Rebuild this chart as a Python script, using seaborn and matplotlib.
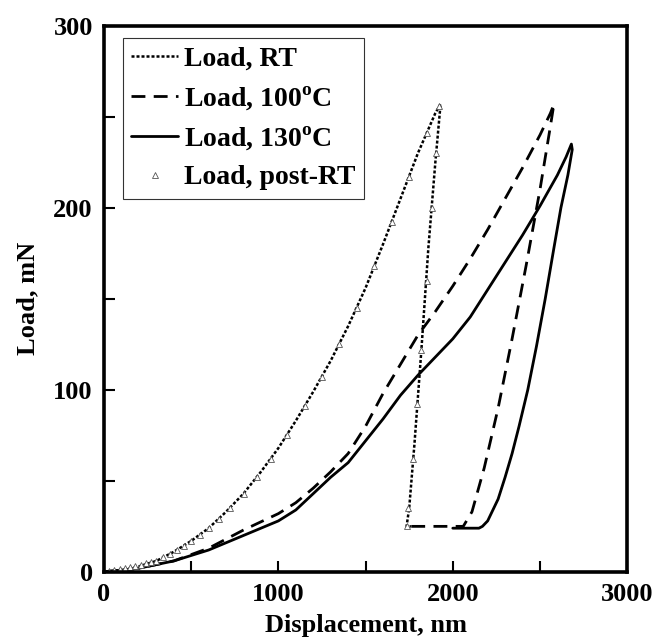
import numpy as np
import pandas as pd
import seaborn as sns
import matplotlib.pyplot as plt
from matplotlib.ticker import MultipleLocator

# Load-displacement data (nm, mN)
rt_x = [0, 100, 200, 300, 400, 500, 600, 700, 800, 900, 1000, 1100, 1200, 1300, 1400,
        1500, 1600, 1700, 1800, 1900, 1930, 1900, 1860, 1820, 1780, 1750, 1735, 1760]
rt_y = [0, 1, 3, 6, 11, 17, 24, 33, 43, 55, 68, 83, 99, 116, 135,
        156, 180, 205, 230, 252, 257, 225, 178, 122, 70, 35, 25, 25]

t100_x = [0, 200, 400, 600, 800, 1000, 1100, 1200, 1300, 1400, 1500, 1600, 1700, 1800, 1900,
          2000, 2100, 2200, 2300, 2400, 2500, 2560, 2580, 2560, 2500, 2420, 2340, 2260, 2180,
          2110, 2060, 2050, 1900, 1730]
t100_y = [0, 2, 6, 13, 23, 32, 38, 46, 55, 65, 80, 98, 114, 130, 143,
          157, 172, 188, 205, 222, 240, 252, 257, 245, 210, 168, 128, 90, 57,
          33, 25, 25, 25, 25]

t130_x = [0, 200, 400, 600, 800, 1000, 1100, 1200, 1300, 1400, 1500, 1600, 1700, 1800, 1900,
          2000, 2100, 2200, 2300, 2400, 2500, 2600, 2650, 2680, 2685, 2660, 2620, 2580, 2530,
          2480, 2430, 2380, 2340, 2300, 2260, 2200, 2170, 2150, 2000]
t130_y = [0, 2, 6, 12, 20, 28, 34, 43, 52, 60, 72, 84, 97, 108, 118,
          128, 140, 155, 170, 185, 201, 218, 228, 235, 232, 218, 200, 178, 150,
          124, 100, 80, 65, 52, 40, 28, 25, 24, 24]

post_x = [0, 30, 60, 90, 120, 150, 180, 210, 240, 270, 300, 340, 380, 420, 460, 500,
          550, 600, 660, 720, 800, 880, 960, 1050, 1150, 1250, 1350, 1450, 1550, 1650,
          1750, 1850, 1920, 1905, 1880, 1850, 1820, 1795, 1770, 1745, 1735]
post_y = [0, 0.5, 1, 1.5, 2, 2.5, 3, 4, 5, 5.5, 6, 8, 10, 12, 14, 17,
          20, 24, 29, 35, 43, 52, 62, 75, 91, 107, 125, 145, 168, 192,
          217, 241, 256, 230, 200, 160, 122, 92, 62, 35, 25]

labels = ["Load, RT", r"Load, 100$^{\rm o}$C", r"Load, 130$^{\rm o}$C", "Load, post-RT"]

sns.set_style("ticks")
plt.rcParams['font.family'] = ['Liberation Serif', 'DejaVu Serif']
plt.rcParams['font.weight'] = 'bold'
plt.rcParams['mathtext.fontset'] = 'custom'
plt.rcParams['mathtext.rm'] = 'Liberation Serif:bold'
plt.rcParams['mathtext.bf'] = 'Liberation Serif:bold'
plt.rcParams['text.color'] = 'black'
plt.rcParams['axes.labelcolor'] = 'black'
plt.rcParams['xtick.color'] = 'black'
plt.rcParams['ytick.color'] = 'black'
plt.rcParams['axes.edgecolor'] = 'black'

fig = plt.figure(figsize=(6.54, 6.44), dpi=100)
ax = fig.add_axes([0.159, 0.112, 0.800, 0.848])

df_rt = pd.DataFrame({"x": rt_x, "y": rt_y})
df_100 = pd.DataFrame({"x": t100_x, "y": t100_y})
df_130 = pd.DataFrame({"x": t130_x, "y": t130_y})
df_post = pd.DataFrame({"x": post_x, "y": post_y})

sns.lineplot(data=df_rt, x="x", y="y", sort=False, estimator=None, ax=ax, color="black",
             linestyle=(0, (1.2, 0.8)), linewidth=1.8, label=labels[0])
sns.lineplot(data=df_100, x="x", y="y", sort=False, estimator=None, ax=ax, color="black",
             linestyle=(0, (5, 3)), linewidth=2.0, label=labels[1])
sns.lineplot(data=df_130, x="x", y="y", sort=False, estimator=None, ax=ax, color="black",
             linestyle="-", linewidth=2.0, label=labels[2])
sns.lineplot(data=df_post, x="x", y="y", sort=False, estimator=None, ax=ax, color="none",
             marker="^", markersize=4, markerfacecolor="white",
             markeredgecolor="#555555", markeredgewidth=0.6, label=labels[3])

ax.set_xlim(0, 3000)
ax.set_ylim(0, 300)
ax.xaxis.set_major_locator(MultipleLocator(1000))
ax.xaxis.set_minor_locator(MultipleLocator(500))
ax.yaxis.set_major_locator(MultipleLocator(100))
ax.yaxis.set_minor_locator(MultipleLocator(50))
ax.tick_params(which='both', direction='in', length=8, width=1.5,
               top=False, right=False, labelsize=19, pad=8)
for s in ax.spines.values():
    s.set_linewidth(2.6)
    s.set_visible(True)
    s.set_color("black")

ax.set_xlabel("Displacement, nm", fontsize=19, fontweight='bold', labelpad=6)
ax.set_ylabel("Load, mN", fontsize=19, fontweight='bold', labelpad=10)

leg = ax.legend(loc="upper left", bbox_to_anchor=(0.036, 0.978), fontsize=20,
                frameon=True, fancybox=False, handlelength=1.7, handletextpad=0.2,
                borderpad=0.3, labelspacing=0.45, borderaxespad=0.0)
leg.get_frame().set_edgecolor("black")
leg.get_frame().set_linewidth(0.8)

plt.savefig('out.png', dpi=100)
